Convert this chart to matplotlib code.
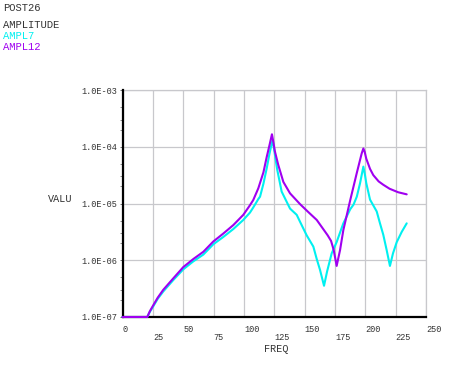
import matplotlib
matplotlib.use("Agg")
import matplotlib.pyplot as plt
import matplotlib.transforms as mtransforms
from matplotlib.ticker import FixedLocator, FixedFormatter, LogLocator, NullFormatter

# ---------------- data ----------------
freq_ampl12 = [0, 20.4, 22.5, 25.4, 29.0, 33.6, 41.8, 50.1, 58.3, 66.6, 74.8, 83.0,
               91.3, 99.5, 105.0, 107.7, 111.9, 116.1, 118.8, 121.1, 123.1, 124.3,
               125.5, 128.3, 132.5, 138.0, 146.2, 153.0, 160.0, 165.0, 169.0, 171.8,
               174.0, 176.4, 179.2, 181.9, 187.6, 192.9, 197.0, 198.4, 199.5, 200.8,
               203.9, 206.6, 211.0, 214.8, 220.0, 227.0, 234.1]
ampl12 = [1.00e-7, 1.00e-7, 1.26e-7, 1.62e-7, 2.19e-7, 3.02e-7, 4.79e-7, 7.59e-7,
          1.05e-6, 1.41e-6, 2.14e-6, 2.95e-6, 4.17e-6, 6.31e-6, 9.33e-6, 1.15e-5,
          1.86e-5, 3.55e-5, 6.61e-5, 1.07e-4, 1.66e-4, 1.20e-4, 8.32e-5, 4.79e-5,
          2.40e-5, 1.51e-5, 9.77e-6, 7.08e-6, 5.13e-6, 3.63e-6, 2.75e-6, 2.19e-6,
          1.51e-6, 7.94e-7, 1.51e-6, 3.39e-6, 1.15e-5, 3.39e-5, 7.59e-5, 9.33e-5,
          8.13e-5, 6.17e-5, 4.07e-5, 3.16e-5, 2.45e-5, 2.14e-5, 1.82e-5, 1.58e-5,
          1.45e-5]

freq_ampl7 = [0, 20.4, 22.5, 25.4, 29.0, 33.6, 41.8, 50.1, 58.3, 66.6, 74.8, 83.0,
              91.3, 99.5, 105.0, 107.7, 111.9, 113.3, 116.1, 118.8, 121.1, 123.6,
              124.8, 125.9, 127.5, 131.1, 138.0, 143.5, 146.2, 151.7, 157.2, 160.0,
              162.7, 166.0, 168.5, 172.3, 176.4, 181.9, 187.6, 190.3, 193.0, 195.7,
              198.4, 199.6, 200.8, 203.9, 209.4, 212.1, 214.8, 217.6, 220.3, 222.8,
              225.9, 230.0, 234.1]
ampl7 = [1.00e-7, 1.00e-7, 1.23e-7, 1.55e-7, 2.09e-7, 2.82e-7, 4.47e-7, 6.92e-7,
         9.55e-7, 1.26e-6, 1.91e-6, 2.57e-6, 3.55e-6, 5.13e-6, 6.92e-6, 8.51e-6,
         1.20e-5, 1.32e-5, 2.24e-5, 4.17e-5, 7.59e-5, 1.32e-4, 9.33e-5, 6.46e-5,
         3.89e-5, 1.62e-5, 8.13e-6, 6.31e-6, 4.79e-6, 2.75e-6, 1.74e-6, 1.05e-6,
         6.76e-7, 3.55e-7, 6.31e-7, 1.32e-6, 2.09e-6, 4.47e-6, 7.94e-6, 9.55e-6,
         1.32e-5, 2.29e-5, 4.47e-5, 3.31e-5, 2.29e-5, 1.17e-5, 7.24e-6, 4.47e-6,
         2.82e-6, 1.51e-6, 7.94e-7, 1.32e-6, 2.09e-6, 3.16e-6, 4.47e-6]

x_ticks = [0, 25, 50, 75, 100, 125, 150, 175, 200, 225, 250]
x_tick_labels = ["0", "25", "50", "75", "100", "125", "150", "175", "200", "225", "250"]
y_ticks = [1e-7, 1e-6, 1e-5, 1e-4, 1e-3]
y_tick_labels = ["1.0E-07", "1.0E-06", "1.0E-05", "1.0E-04", "1.0E-03"]

header_lines = ["POST26", "AMPLITUDE"]
series_names = ["AMPL7", "AMPL12"]

# ---------------- style ----------------
FONT = ["Liberation Mono", "DejaVu Sans Mono"]
TXT = "#333333"
CYAN = "#00f0f0"
PURPLE = "#a000f0"
GRID = "#c8c8cc"

W, H = 464, 373
fig = plt.figure(figsize=(W / 100, H / 100), dpi=100)
fig.patch.set_facecolor("white")

ax_l, ax_r, ax_t, ax_b = 122.5, 426.0, 90.0, 317.0
ax = fig.add_axes([ax_l / W, 1 - ax_b / H, (ax_r - ax_l) / W, (ax_b - ax_t) / H])

ax.plot(freq_ampl7, ampl7, color=CYAN, lw=1.5, solid_joinstyle="round",
        solid_capstyle="round", zorder=6, clip_on=False)
ax.plot(freq_ampl12, ampl12, color=PURPLE, lw=1.5, solid_joinstyle="round",
        solid_capstyle="round", zorder=7, clip_on=False)

ax.set_yscale("log")
ax.set_xlim(0, 250)
ax.set_ylim(1e-7, 1e-3)

ax.yaxis.set_major_locator(FixedLocator(y_ticks))
ax.yaxis.set_major_formatter(FixedFormatter(y_tick_labels))
ax.yaxis.set_minor_locator(LogLocator(base=10, subs=(2.0, 3.0, 5.0)))
ax.yaxis.set_minor_formatter(NullFormatter())
ax.tick_params(axis="y", which="major", length=2.5, width=0.6, color="#555555",
               labelsize=6.2, labelcolor=TXT, pad=1.5)
ax.tick_params(axis="y", which="minor", length=2, width=0.6, color="#777777")
for lab in ax.get_yticklabels():
    lab.set_family(FONT)

ax.xaxis.set_major_locator(FixedLocator(x_ticks))
ax.tick_params(axis="x", which="both", length=0, labelbottom=False)

ax.grid(True, which="major", color=GRID, lw=0.9, zorder=0)
ax.set_axisbelow(True)

for side in ("top", "right"):
    ax.spines[side].set_color(GRID)
    ax.spines[side].set_linewidth(0.9)
for side in ("left", "bottom"):
    ax.spines[side].set_color("black")
    ax.spines[side].set_linewidth(1.6)
    ax.spines[side].set_zorder(5)

# x tick labels on two staggered rows
trans = mtransforms.blended_transform_factory(ax.transData, fig.transFigure)
for i, (xv, lab) in enumerate(zip(x_ticks, x_tick_labels)):
    ypix = 329 if i % 2 == 0 else 338
    ax.text(xv, 1 - ypix / H, lab, transform=trans, ha="left", va="center",
            fontsize=6.2, color=TXT, family=FONT)

fig.text(276 / W, 1 - 349 / H, "FREQ", ha="center", va="center",
         fontsize=7.3, color=TXT, family=FONT)
fig.text(48 / W, 1 - 199 / H, "VALU", ha="left", va="center",
         fontsize=7.3, color=TXT, family=FONT)

# header text
fig.text(3 / W, 1 - 8 / H, header_lines[0], ha="left", va="center",
         fontsize=7.6, color=TXT, family=FONT)
fig.text(3 / W, 1 - 25 / H, header_lines[1], ha="left", va="center",
         fontsize=7.6, color=TXT, family=FONT)
fig.text(3 / W, 1 - 36 / H, series_names[0], ha="left", va="center",
         fontsize=7.6, color=CYAN, family=FONT)
fig.text(3 / W, 1 - 47 / H, series_names[1], ha="left", va="center",
         fontsize=7.6, color=PURPLE, family=FONT)

fig.savefig("out.png", dpi=100, facecolor="white")
